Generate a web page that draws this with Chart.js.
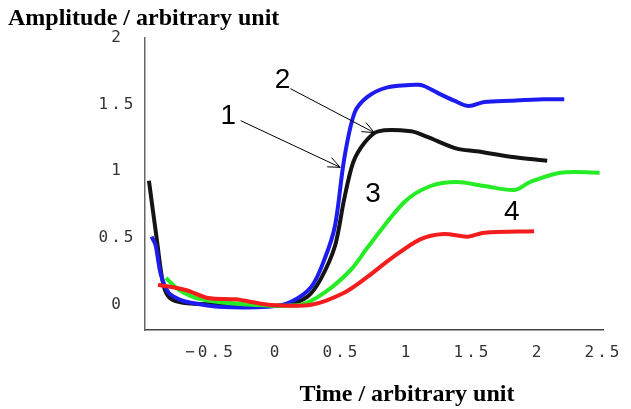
<!DOCTYPE html>
<html>
<head>
<meta charset="utf-8">
<script src="https://cdn.jsdelivr.net/npm/chart.js@4"></script>
<style>
  html, body { margin: 0; padding: 0; background: #fff; }
  #wrap { width: 631px; height: 409px; }
</style>
</head>
<body>
<div id="wrap"><canvas id="chart" width="631" height="409"></canvas></div>
<script>
// tick labels
const xTicks = [-0.5, 0, 0.5, 1, 1.5, 2, 2.5];
const yTicks = [0, 0.5, 1, 1.5, 2];

// curve 2 (black)
const timeBlack = [-0.97, -0.91, -0.86, -0.81, -0.71, -0.44, -0.14, 0.09, 0.24, 0.34, 0.45, 0.52, 0.59, 0.68, 0.78, 1.03, 1.15, 1.38, 1.53, 1.79, 2.07];
const ampBlack  = [0.93, 0.49, 0.15, 0.05, 0.015, 0, -0.01, 0, 0.06, 0.19, 0.44, 0.79, 1.07, 1.22, 1.30, 1.30, 1.26, 1.17, 1.15, 1.11, 1.08];

// curve 1 (blue)
const timeBlue = [-0.95, -0.92, -0.88, -0.82, -0.74, -0.65, -0.44, -0.06, 0.11, 0.27, 0.37, 0.45, 0.52, 0.60, 0.70, 0.85, 1.08, 1.13, 1.23, 1.36, 1.47, 1.59, 1.79, 2.04, 2.20];
const ampBlue  = [0.51, 0.45, 0.23, 0.09, 0.04, 0.015, -0.015, -0.015, 0.02, 0.135, 0.34, 0.59, 1.09, 1.44, 1.56, 1.63, 1.65, 1.64, 1.59, 1.53, 1.49, 1.52, 1.53, 1.54, 1.54];

// curve 3 (green)
const timeGreen = [-0.84, -0.74, -0.57, -0.19, 0.19, 0.37, 0.57, 0.70, 0.98, 1.18, 1.38, 1.59, 1.82, 1.94, 2.17, 2.47];
const ampGreen  = [0.20, 0.11, 0.04, 0, 0, 0.09, 0.26, 0.43, 0.77, 0.89, 0.92, 0.89, 0.86, 0.92, 0.99, 0.99];

// curve 4 (red)
const timeRed = [-0.90, -0.69, -0.52, -0.31, -0.06, 0.27, 0.52, 0.70, 0.87, 1.10, 1.28, 1.46, 1.59, 1.97];
const ampRed  = [0.15, 0.11, 0.05, 0.04, 0, 0, 0.09, 0.21, 0.34, 0.49, 0.53, 0.51, 0.54, 0.55];

// curve labels and arrows (data coordinates)
const curveLabels = ['1', '2', '3', '4'];
const labelTimes = [-0.365, 0.05, 0.74, 1.80];
const labelAmps = [1.41, 1.68, 0.83, 0.69];
const arrowFrom = [[-0.27, 1.38], [0.11, 1.62]];
const arrowTo = [[0.49, 1.03], [0.75, 1.29]];

function points(xs, ys) {
    return xs.map((x, i) => ({ x: x, y: ys[i] }));
}

function series(xs, ys, color, order) {
    return {
        data: points(xs, ys),
        borderColor: color,
        borderWidth: 4,
        pointRadius: 0,
        tension: 0.3,
        fill: false,
        order: order
    };
}

const captions = {
    id: 'captions',
    beforeDraw(chart) {
        chart.ctx.letterSpacing = '3px';
    },
    beforeDatasetsDraw(chart) {
        chart.ctx.letterSpacing = '0px';
    },
    afterDraw(chart) {
        const ctx = chart.ctx;
        const xs = chart.scales.x;
        const ys = chart.scales.y;
        ctx.save();
        ctx.letterSpacing = '0px';
        ctx.fillStyle = '#000';

        // axis captions
        ctx.font = 'bold 24px "Liberation Serif"';
        ctx.textBaseline = 'middle';
        ctx.textAlign = 'left';
        ctx.fillText('Amplitude / arbitrary unit', 8, 19);
        ctx.textAlign = 'center';
        ctx.fillText('Time / arbitrary unit', 407, 395);

        // curve numbers
        ctx.font = '28px "Liberation Sans"';
        curveLabels.forEach((t, i) => {
            ctx.fillText(t, xs.getPixelForValue(labelTimes[i]), ys.getPixelForValue(labelAmps[i]));
        });

        // arrows
        ctx.strokeStyle = '#000';
        ctx.lineWidth = 1;
        arrowFrom.forEach((a, i) => {
            const x1 = xs.getPixelForValue(a[0]), y1 = ys.getPixelForValue(a[1]);
            const x2 = xs.getPixelForValue(arrowTo[i][0]), y2 = ys.getPixelForValue(arrowTo[i][1]);
            const ang = Math.atan2(y2 - y1, x2 - x1);
            ctx.beginPath();
            ctx.moveTo(x1, y1);
            ctx.lineTo(x2, y2);
            [0.4, -0.4].forEach(d => {
                ctx.moveTo(x2, y2);
                ctx.lineTo(x2 - 13 * Math.cos(ang + d), y2 - 13 * Math.sin(ang + d));
            });
            ctx.stroke();
        });
        ctx.restore();
    }
};

const tickFont = { family: '"DejaVu Sans Mono"', size: 16 };
const fmt = v => (v < 0 ? '\u2212' + Math.abs(v) : String(v));

new Chart(document.getElementById('chart'), {
    type: 'line',
    data: {
        datasets: [
            series(timeBlack, ampBlack, '#141414', 4),
            series(timeBlue, ampBlue, '#1c1cf0', 3),
            series(timeGreen, ampGreen, '#26ec26', 2),
            series(timeRed, ampRed, '#f41c1c', 1)
        ]
    },
    options: {
        responsive: false,
        animation: false,
        layout: { padding: { top: 38, right: 26, bottom: 0, left: 0 } },
        plugins: {
            legend: { display: false },
            tooltip: { enabled: false }
        },
        scales: {
            x: {
                type: 'linear',
                min: -1,
                max: 2.5,
                afterBuildTicks: scale => { scale.ticks = xTicks.map(v => ({ value: v })); },
                afterFit: scale => { scale.height = 79; },
                grid: { display: false, drawTicks: false },
                border: { display: true, color: '#444', width: 1.5 },
                ticks: {
                    font: tickFont,
                    color: '#333',
                    padding: 13,
                    maxRotation: 0,
                    callback: fmt
                }
            },
            y: {
                type: 'linear',
                min: -0.19,
                max: 2,
                afterBuildTicks: scale => { scale.ticks = yTicks.map(v => ({ value: v })); },
                afterFit: scale => { scale.width = 145; },
                grid: { display: false, drawTicks: false },
                border: { display: true, color: '#666', width: 1.5 },
                ticks: {
                    font: tickFont,
                    color: '#333',
                    padding: 13,
                    crossAlign: 'center',
                    callback: fmt
                }
            }
        }
    },
    plugins: [captions]
});
</script>
</body>
</html>
